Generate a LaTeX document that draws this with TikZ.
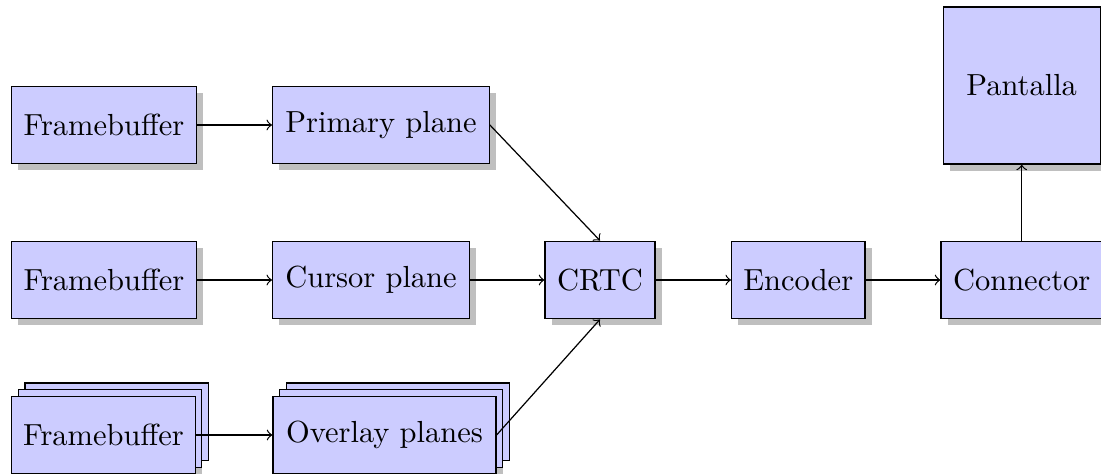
\documentclass[tikz,border=0pt]{standalone}
\usetikzlibrary{shadows}
\begin{document}
\begin{tikzpicture}[x=0.328pt, y=-0.328pt,
  block/.style={draw, fill=blue!20, minimum height=77.5*0.328pt, inner sep=0pt,
    drop shadow},
  stackblock/.style={draw, fill=blue!20, minimum height=77.5*0.328pt, inner sep=0pt,
    drop shadow, double copy shadow={shadow xshift=.5ex, shadow yshift=.5ex}},
  flow/.style={->}]
  \useasboundingbox (0,0) rectangle (1101,474);

  % top row: primary plane
  \node[block, minimum width=184.5*0.328pt] (fbA) at (104,125) {Framebuffer};
  \node[block, minimum width=216.6*0.328pt] (primary) at (381,125) {Primary plane};

  % middle row: cursor plane and the output chain
  \node[block, minimum width=184.5*0.328pt] (fbB) at (104,280) {Framebuffer};
  \node[block, minimum width=196.6*0.328pt] (cursor) at (371,280) {Cursor plane};
  \node[block, minimum width=110*0.328pt] (crtc) at (600,280) {CRTC};
  \node[block, minimum width=133.3*0.328pt] (encoder) at (798.3,280) {Encoder};
  \node[block, minimum width=161.4*0.328pt] (connector) at (1021.7,280) {Connector};
  \node[block, minimum width=157*0.328pt, minimum height=157*0.328pt] (screen) at (1021.7,85.5) {Pantalla};

  % bottom row: stacked overlay planes
  \node[stackblock, minimum width=183.5*0.328pt] (fbC) at (103.5,435) {Framebuffer};
  \node[stackblock, minimum width=223*0.328pt] (overlay) at (384.5,435) {Overlay planes};

  % connections
  \draw[flow] (fbA) -- (primary);
  \draw[flow] (fbB) -- (cursor);
  \draw[flow] (fbC) -- (overlay);
  \draw[flow] (primary.east) -- (crtc.north);
  \draw[flow] (cursor) -- (crtc);
  \draw[flow] (overlay.east) -- (crtc.south);
  \draw[flow] (crtc) -- (encoder);
  \draw[flow] (encoder) -- (connector);
  \draw[flow] (connector) -- (screen);
\end{tikzpicture}
\end{document}
